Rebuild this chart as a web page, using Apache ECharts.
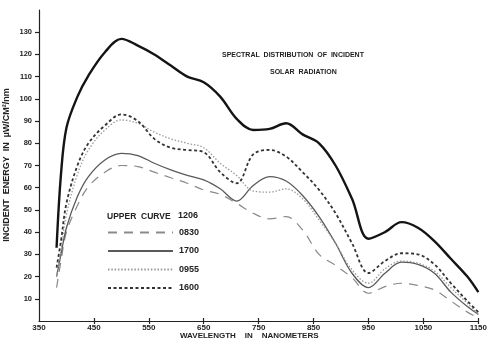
<!DOCTYPE html>
<html>
<head>
<meta charset="utf-8">
<style>
  html, body { margin: 0; padding: 0; background: #fff; }
  #chart { width: 490px; height: 344px; }
</style>
<script src="https://cdn.jsdelivr.net/npm/echarts@6/dist/echarts.min.js"></script>
</head>
<body>
<div id="chart"></div>
<script>
// Wavelength sample points (nm) shared by every curve
var wavelengths = [382, 390, 400, 420, 440, 470, 500, 530, 560, 590, 620, 650, 680, 710, 740, 770, 800, 830, 860, 890, 920, 950, 980, 1010, 1040, 1070, 1100, 1130, 1150];

// Incident energy (µW/cm²/nm) at each wavelength, one array per time of day
var t1206 = [33, 66, 87, 101, 110.5, 121, 127, 124, 120, 115, 110, 107.5, 101, 91, 86, 86.5, 89, 84, 80, 70, 55, 37, 40, 44.5, 42, 36, 28, 20, 13];
var t0830 = [15, 27, 40, 52, 60.5, 67, 70, 69.5, 67, 64.5, 62, 59, 57, 53, 48.5, 46, 47, 41, 30, 25, 19.5, 12.5, 15.5, 17, 16, 14, 9, 4, 1.5];
var t1700 = [20, 30, 42, 56, 65, 72.5, 75.5, 74.5, 71, 68, 65.5, 63.5, 59.5, 54, 61, 65, 63, 56.5, 47, 35, 21.5, 15, 21.5, 26.5, 25.5, 21.5, 13, 6.5, 3];
var t0955 = [20, 32, 48, 66, 77, 86, 90.5, 89, 85, 82, 80, 78, 71, 65.5, 58.5, 58, 59.5, 55, 45.5, 35, 23, 17, 23.5, 27, 26, 22.5, 15, 8, 3];
var t1600 = [24, 36, 53, 70, 80, 88, 93, 90, 82, 78, 77, 76, 67, 62, 75, 77, 74, 67, 59, 48.5, 35, 21.6, 27, 30.5, 30, 25.5, 17, 9, 4];

// Axis tick labels
var xTicks = [350, 450, 550, 650, 750, 850, 950, 1050, 1150];
var yTicks = [10, 20, 30, 40, 50, 60, 70, 80, 90, 100, 110, 120, 130];

var INK = '#222';
var FONT = '"Liberation Sans", "DejaVu Sans", sans-serif';

function pairs(values) {
  return wavelengths.map(function (w, i) { return [w, values[i]]; });
}

function curve(name, values, color, width, dash) {
  return {
    name: name,
    type: 'line',
    data: pairs(values),
    smooth: 0.35,
    symbol: 'none',
    silent: true,
    lineStyle: { color: color, width: width, type: dash },
    itemStyle: { color: color }
  };
}

var chart = echarts.init(document.getElementById('chart'), null, { renderer: 'canvas' });

chart.setOption({
  animation: false,
  backgroundColor: '#fff',
  grid: { left: 39, right: 7, top: 10, bottom: 23 },
  xAxis: [{
    type: 'value',
    min: 350, max: 1150, interval: 100,
    splitLine: { show: false },
    axisLine: { lineStyle: { color: INK, width: 1.2 } },
    axisTick: { show: true, length: 3, lineStyle: { color: INK, width: 1.2 }, customValues: xTicks.slice(1) },
    axisLabel: {
      color: INK, fontSize: 8, fontWeight: 'bold', fontFamily: FONT, margin: 3,
      customValues: xTicks,
      formatter: function (v) { return String(v); }
    }
  }, {
    type: 'value',
    position: 'bottom',
    min: 350, max: 1150, interval: 100,
    splitLine: { show: false },
    axisLine: { show: false },
    axisTick: { show: true, inside: true, length: 3, lineStyle: { color: INK, width: 1.2 }, customValues: xTicks.slice(1) },
    axisLabel: { show: false }
  }],
  yAxis: {
    type: 'value',
    min: 0, max: 140, interval: 10,
    splitLine: { show: false },
    axisLine: { show: true, lineStyle: { color: INK, width: 1.2 } },
    axisTick: { show: true, length: 4, lineStyle: { color: INK, width: 1.2 }, customValues: yTicks },
    axisLabel: { color: INK, fontSize: 7.5, fontWeight: 'bold', fontFamily: FONT, margin: 7, customValues: yTicks }
  },
  legend: {
    orient: 'vertical',
    left: 107, top: 228,
    padding: 0,
    itemWidth: 65, itemHeight: 10, itemGap: 9.5,
    selectedMode: false,
    data: ['0830', '1700', '0955', '1600'],
    itemStyle: { opacity: 0 },
    textStyle: { color: INK, fontSize: 9, fontWeight: 'bold', fontFamily: FONT, padding: [0, 0, 0, 1] }
  },
  graphic: [
    { type: 'text', left: 222, top: 52, style: { text: 'SPECTRAL  DISTRIBUTION  OF  INCIDENT', fill: INK, font: 'bold 7px ' + FONT } },
    { type: 'text', left: 270, top: 69, style: { text: 'SOLAR  RADIATION', fill: INK, font: 'bold 7px ' + FONT } },
    { type: 'text', left: 107, top: 212, style: { text: 'UPPER  CURVE', fill: INK, font: 'bold 8.5px ' + FONT } },
    { type: 'text', left: 178, top: 211, style: { text: '1206', fill: INK, font: 'bold 9px ' + FONT } },
    { type: 'text', left: 180, top: 332, style: { text: 'WAVELENGTH    IN    NANOMETERS', fill: INK, font: 'bold 8px ' + FONT } },
    { type: 'text', x: 7, y: 165, rotation: Math.PI / 2,
      style: { text: 'INCIDENT  ENERGY  IN  \u00B5W/CM\u00B2/nm', fill: INK, font: 'bold 9px ' + FONT, align: 'center', verticalAlign: 'middle' } }
  ],
  series: [
    curve('1206', t1206, '#141414', 2.4, 'solid'),
    curve('0830', t0830, '#8a8a8a', 1.2, [9, 7]),
    curve('1700', t1700, '#5a5a5a', 1.3, 'solid'),
    curve('0955', t0955, '#9a9a9a', 1.3, [1.5, 1.8]),
    curve('1600', t1600, '#333333', 1.8, [3, 2.5])
  ]
});
</script>
</body>
</html>
